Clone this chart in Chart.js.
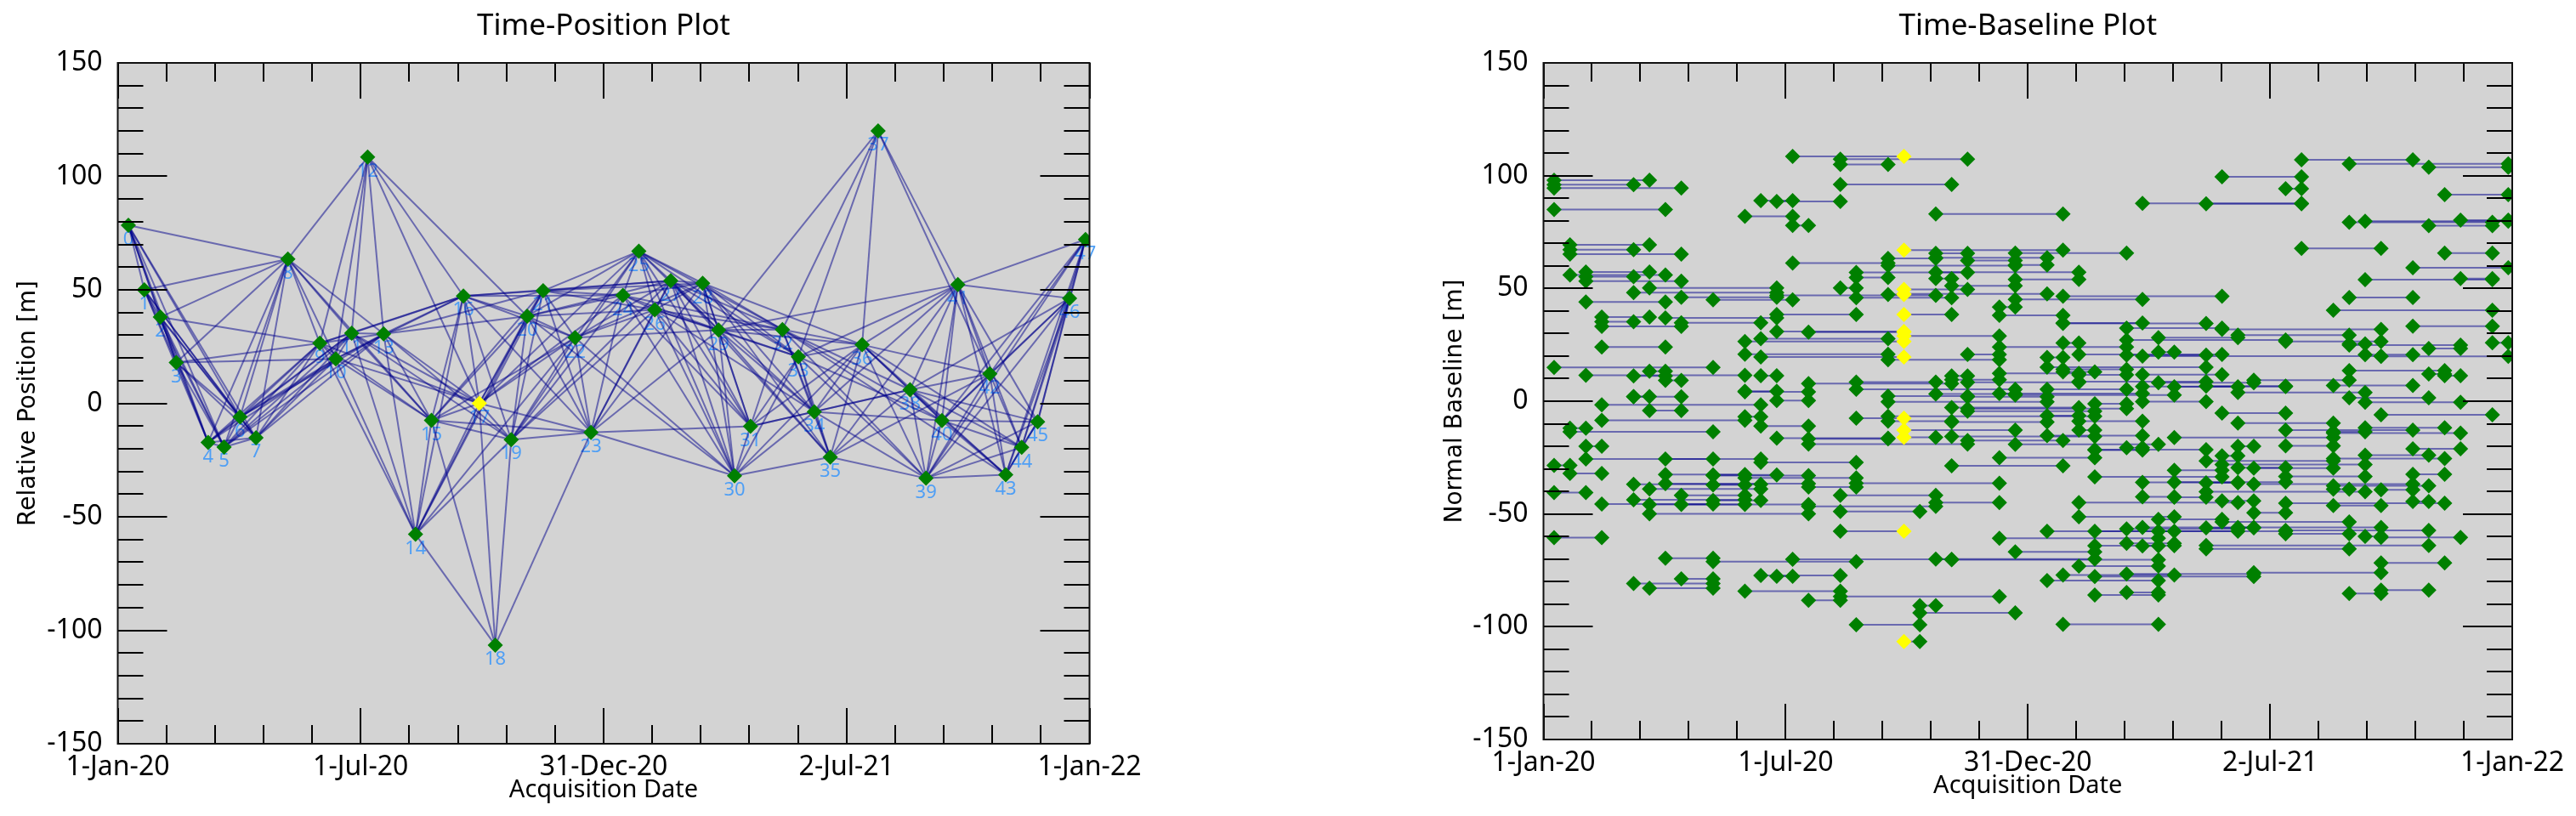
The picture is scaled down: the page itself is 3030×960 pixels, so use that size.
<!DOCTYPE html>
<html>
<head>
<meta charset="utf-8">
<title>Time-Position and Time-Baseline Plots</title>
<script src="https://cdn.jsdelivr.net/npm/chart.js@4"></script>
<style>
    html, body { margin: 0; padding: 0; background: #fff; }
    #page { position: relative; width: 3030px; height: 960px; overflow: hidden; }
    canvas { position: absolute; top: 0; }
</style>
</head>
<body>
<div id="page">
    <canvas id="positionChart" width="1515" height="960" style="left:0"></canvas>
    <canvas id="baselineChart" width="1515" height="960" style="left:1515px"></canvas>
</div>
<script>
// days since 1-Jan-20 of every acquisition
const imageDays = [8, 20, 32, 44, 68, 80, 92, 104, 128, 152, 164, 176, 188, 200, 224, 236,
    260, 272, 284, 296, 308, 320, 344, 356, 380, 392, 404, 416, 440, 452, 464, 476,
    500, 512, 524, 536, 560, 572, 596, 608, 620, 632, 656, 668, 680, 692, 716, 728];

const imagePositions = [78.5, 50, 38, 18, -17.2, -19.3, -6, -15.2, 63.6, 26.5, 19.6, 30.9, 108.5, 30.6, -57.7, -7.5,
    47.3, 0, -106.6, -16, 38.4, 49.6, 28.9, -12.8, 47.6, 67, 41.2, 54, 52.9, 32.3, -31.9, -10.1,
    32.5, 20.5, -3.7, -23.7, 25.8, 120, 6, -33, -7.6, 52.3, 13, -31.5, -19.4, -8.1, 46.3, 72.2];

const superMaster = 17;

// [image a, image b, normal baseline]
const pairs = [
    [0,5,98],[0,4,96],[0,7,94.5],[0,6,85],[0,8,15],[0,1,-28.5],[0,2,-40.5],[0,3,-60.5],
    [1,5,69.3],[1,4,67.2],[1,7,65.2],[1,6,56],[1,2,-12],[1,8,-13.6],[1,3,-32],
    [2,5,57.3],[2,4,55.2],[2,7,53.2],[2,6,44],[2,9,11.5],[2,8,-25.6],[2,3,-20],
    [3,9,-8.5],[3,5,37.3],[3,4,35.2],[3,7,33.2],[3,6,24],[3,10,-1.6],[3,8,-45.6],
    [4,11,48.1],[4,6,11.2],[4,5,2.1],[4,7,2],[4,10,-36.8],[4,9,-43.7],[4,8,-80.8],
    [5,11,50.2],[5,6,13.3],[5,7,-4.1],[5,10,-38.9],[5,9,-45.8],[5,13,-49.9],[5,8,-82.9],
    [6,11,36.9],[6,7,9.2],[6,10,-25.6],[6,9,-32.5],[6,13,-36.6],[6,8,-69.6],
    [7,11,46.1],[7,10,34.8],[7,9,-41.7],[7,13,-45.8],[7,8,-78.8],
    [8,12,44.9],[8,11,-32.7],[8,13,-33],[8,9,-37.1],[8,10,-44],[8,15,-71.1],
    [9,12,82],[9,17,26.5],[9,16,20.8],[9,11,4.4],[9,13,4.1],[9,10,-6.9],[9,15,-34],[9,14,-84.2],
    [10,12,88.9],[10,16,27.7],[10,17,19.6],[10,11,11.3],[10,13,-11],[10,15,-27.1],[10,14,-77.3],
    [11,14,88.6],[11,15,38.4],[11,17,30.9],[11,19,46.9],[11,13,0.3],[11,16,-16.4],[11,12,-77.6],
    [12,17,108.5],[12,13,77.9],[12,16,61.2],[12,20,-70.1],
    [13,17,30.6],[13,16,-16.7],[13,21,-19],[13,20,7.8],[13,15,-38.1],[13,19,-46.6],[13,14,-88.3],
    [14,21,107.3],[14,16,105],[14,20,96.1],[14,22,-86.6],[14,15,50.2],[14,17,-57.7],[14,19,-41.7],[14,18,-48.9],
    [15,16,54.8],[15,21,57.1],[15,20,45.9],[15,17,-7.5],[15,19,8.5],[15,23,5.3],[15,22,-36.4],[15,18,-99.1],
    [16,17,47.3],[16,19,63.3],[16,23,60.1],[16,21,2.3],[16,24,-0.3],[16,20,-8.9],[16,22,18.4],[16,27,-6.7],
    [17,25,67],[17,21,49.6],[17,24,47.6],[17,20,38.4],[17,22,28.9],[17,23,-12.8],[17,19,-16],[17,18,-106.6],
    [18,23,-93.8],[18,19,-90.6],
    [19,25,83],[19,21,65.6],[19,24,63.6],[19,26,57.2],[19,20,54.4],[19,23,3.2],[19,22,-44.9],[19,27,-70],
    [20,21,11.2],[20,22,9.5],[20,23,51.2],[20,26,-2.8],[20,24,-9.2],[20,27,-15.6],[20,25,-28.6],[20,30,-70.3],
    [21,23,62.4],[21,22,20.7],[21,26,8.4],[21,24,2],[21,27,-4.4],[21,28,-3.3],[21,25,-17.4],
    [22,23,41.7],[22,25,38.1],[22,28,24],[22,26,12.3],[22,29,3.4],[22,27,-25.1],[22,30,-60.8],
    [23,28,65.7],[23,24,60.4],[23,26,54],[23,29,45.1],[23,31,2.7],[23,30,-19.1],[23,27,-66.8],
    [24,25,19.4],[24,32,15.1],[24,28,5.3],[24,26,-6.4],[24,29,-15.3],[24,31,-57.7],[24,30,-79.5],
    [25,33,46.5],[25,29,34.7],[25,32,34.5],[25,28,14.1],[25,27,13],[25,26,25.8],[25,31,-77.1],[25,30,-98.9],
    [26,33,20.7],[26,28,11.7],[26,27,-12.8],[26,32,8.7],[26,29,-8.9],[26,34,-44.9],[26,31,-51.3],[26,30,-73.1],
    [27,28,-1.1],[27,32,-21.5],[27,29,-21.7],[27,33,-33.5],[27,34,-57.7],[27,31,-64.1],[27,30,-85.9],[27,35,-77.7],
    [28,33,32.4],[28,36,27.1],[28,32,20.4],[28,29,-20.6],[28,34,-56.6],[28,31,-63],[28,35,-76.6],[28,30,-84.8],
    [29,37,87.7],[29,33,11.8],[29,36,6.5],[29,32,-0.2],[29,34,-36],[29,31,-42.4],[29,35,-56],[29,30,-64.2],[29,41,20],
    [30,34,28.2],[30,31,21.8],[30,35,8.2],[30,33,-52.4],[30,36,-57.7],
    [31,34,6.4],[31,38,-16.1],[31,33,-30.6],[31,36,-35.9],[31,32,-42.6],
    [32,37,87.5],[32,36,6.7],[32,38,-26.5],[32,34,-36.2],[32,40,-40.1],[32,35,-56.2],[32,43,-64],[32,39,-65.5],
    [33,37,99.5],[33,41,31.8],[33,34,-24.2],[33,36,-5.3],[33,40,-28.1],[33,35,-44.2],[33,39,-53.5],
    [34,36,-29.5],[34,39,29.3],[34,35,-20],[34,40,3.9],[34,38,-9.7],[34,41,-56],
    [35,39,9.3],[35,38,-29.7],[35,42,-36.7],[35,36,-49.5],[35,41,-76],
    [36,37,94.2],[36,41,26.5],[36,42,-12.8],[36,38,-19.8],[36,40,-33.4],[36,44,-45.2],[36,43,-57.3],[36,39,-58.8],
    [37,42,107],[37,41,67.7],
    [38,46,40.3],[38,42,7],[38,40,-13.6],[38,45,-14.1],[38,44,-25.4],[38,43,-37.5],[38,39,-39],[38,41,-46.3],
    [39,47,105.2],[39,46,79.3],[39,42,46],[39,40,25.4],[39,45,24.9],[39,44,13.6],[39,43,1.5],[39,41,-85.3],
    [40,47,79.8],[40,46,53.9],[40,42,20.6],[40,45,-0.5],[40,44,-11.8],[40,43,-23.9],[40,41,-59.9],
    [41,47,19.9],[41,46,-6],[41,42,-39.3],[41,45,-60.4],[41,44,-71.7],[41,43,-83.8],
    [42,47,59.2],[42,46,33.3],[42,45,-21.1],[42,44,-32.4],[42,43,-44.5],
    [43,47,103.7],[43,46,77.8],[43,45,23.4],[43,44,12.1],
    [44,47,91.6],[44,46,65.7],[44,45,11.3],
    [45,47,80.3],[45,46,54.4],
    [46,47,25.9]
];

const xTickLabels = ['1-Jan-20', '1-Jul-20', '31-Dec-20', '2-Jul-21', '1-Jan-22'];
const xMax = 731;
const xMinorPerMajor = 5;
const yMin = -150;
const yMax = 150;
const yStep = 10;
const yLabelStep = 50;

const LINE_COLOR = 'rgba(0, 0, 139, 0.5)';
const GREEN = '#008000';
const YELLOW = '#ffff00';
const LABEL_BLUE = '#4f9ff5';
const TEXT_FONT = '"Noto Sans", sans-serif';

// plot background, inward ticks and the frame
const framePlugin = {
    id: 'frame',
    beforeDatasetsDraw(chart) {
        const { ctx, chartArea: a, scales: { x, y } } = chart;
        ctx.save();
        ctx.fillStyle = '#d3d3d3';
        ctx.fillRect(a.left, a.top, a.right - a.left, a.bottom - a.top);

        // image numbers sit under the lines
        if (chart.options.plugins.frame.showNumbers) {
            ctx.fillStyle = LABEL_BLUE;
            ctx.font = '22px ' + TEXT_FONT;
            ctx.textAlign = 'center';
            ctx.textBaseline = 'middle';
            imageDays.forEach((day, i) => {
                ctx.fillText(String(i), x.getPixelForValue(day), y.getPixelForValue(imagePositions[i]) + 17);
            });
        }
        ctx.restore();
    },
    afterDatasetsDraw(chart) {
        const { ctx, chartArea: a, scales: { x, y } } = chart;
        ctx.save();
        ctx.strokeStyle = '#000';
        ctx.lineWidth = 2;
        ctx.beginPath();
        x.ticks.forEach((t, i) => {
            const px = Math.round(x.getPixelForValue(t.value));
            const len = i % xMinorPerMajor === 0 ? 42 : 22;
            ctx.moveTo(px, a.top);
            ctx.lineTo(px, a.top + len);
            ctx.moveTo(px, a.bottom);
            ctx.lineTo(px, a.bottom - len);
        });
        y.ticks.forEach(t => {
            const py = Math.round(y.getPixelForValue(t.value));
            const len = t.value % yLabelStep === 0 ? 58 : 30;
            ctx.moveTo(a.left, py);
            ctx.lineTo(a.left + len, py);
            ctx.moveTo(a.right, py);
            ctx.lineTo(a.right - len, py);
        });
        ctx.stroke();
        ctx.strokeStyle = '#111';
        ctx.strokeRect(a.left, a.top, a.right - a.left, a.bottom - a.top);
        ctx.restore();
    }
};

function lineDataset(data) {
    return {
        data,
        showLine: true,
        borderColor: LINE_COLOR,
        borderWidth: 2,
        pointRadius: 0,
        order: 1
    };
}

function markerDataset(data) {
    return {
        data,
        showLine: false,
        pointStyle: 'rectRot',
        pointRadius: 9,
        borderWidth: 0,
        backgroundColor: c => (c.raw && c.raw.x === imageDays[superMaster] ? YELLOW : GREEN),
        order: 0
    };
}

function renderPlot(canvasId, titleText, yTitle, datasets, box, showNumbers) {
    new Chart(document.getElementById(canvasId), {
        type: 'scatter',
        data: { datasets },
        plugins: [framePlugin],
        options: {
            responsive: false,
            animation: false,
            events: [],
            layout: { padding: { right: 1515 - box.right, top: 0, left: 0, bottom: 0 } },
            plugins: {
                legend: { display: false },
                tooltip: { enabled: false },
                frame: { showNumbers },
                title: {
                    display: true,
                    fullSize: false,
                    text: titleText,
                    color: '#000',
                    font: { family: TEXT_FONT, size: 35, weight: 'normal', lineHeight: 1.2 },
                    padding: { top: 10, bottom: 22 }
                }
            },
            scales: {
                x: {
                    type: 'linear',
                    min: 0,
                    max: xMax,
                    grid: { display: false },
                    border: { display: false },
                    afterBuildTicks(scale) {
                        const ticks = [];
                        const count = (xTickLabels.length - 1) * xMinorPerMajor;
                        for (let i = 0; i <= count; i++) ticks.push({ value: xMax * i / count });
                        scale.ticks = ticks;
                    },
                    afterFit(scale) { scale.height = 960 - box.bottom; },
                    ticks: {
                        autoSkip: false,
                        maxRotation: 0,
                        padding: 1,
                        color: '#000',
                        font: { family: TEXT_FONT, size: 32 },
                        callback: (v, i) => (i % xMinorPerMajor === 0 ? xTickLabels[i / xMinorPerMajor] : '')
                    },
                    title: {
                        display: true,
                        text: 'Acquisition Date',
                        color: '#000',
                        font: { family: TEXT_FONT, size: 29 },
                        padding: { top: 0, bottom: box.titleGap }
                    }
                },
                y: {
                    min: yMin,
                    max: yMax,
                    grid: { display: false },
                    border: { display: false },
                    afterFit(scale) { scale.width = box.left; },
                    ticks: {
                        stepSize: yStep,
                        autoSkip: false,
                        padding: 10,
                        color: '#000',
                        font: { family: TEXT_FONT, size: 32 },
                        callback: v => (v % yLabelStep === 0 ? String(v) : '')
                    },
                    title: {
                        display: true,
                        text: yTitle,
                        color: '#000',
                        font: { family: '"DejaVu Sans", sans-serif', size: 28 },
                        padding: { top: box.yTitleLeft, bottom: 0 }
                    }
                }
            }
        }
    });
}

function renderPositionPlot() {
    const lines = pairs.map(([a, b]) => lineDataset([
        { x: imageDays[a], y: imagePositions[a] },
        { x: imageDays[b], y: imagePositions[b] }
    ]));
    const markers = markerDataset(imageDays.map((day, i) => ({ x: day, y: imagePositions[i] })));
    renderPlot('positionChart', 'Time-Position Plot', 'Relative Position [m]', [markers, ...lines],
        { left: 138.5, right: 1281.5, bottom: 875, titleGap: 13, yTitleLeft: 17 }, true);
}

function renderBaselinePlot() {
    const lines = pairs.map(([a, b, base]) => lineDataset([
        { x: imageDays[a], y: base },
        { x: imageDays[b], y: base }
    ]));
    const ends = [];
    pairs.forEach(([a, b, base]) => {
        ends.push({ x: imageDays[a], y: base }, { x: imageDays[b], y: base });
    });
    renderPlot('baselineChart', 'Time-Baseline Plot', 'Normal Baseline [m]', [markerDataset(ends), ...lines],
        { left: 300.5, right: 1440, bottom: 870, titleGap: 18, yTitleLeft: 180 }, false);
}

document.addEventListener('DOMContentLoaded', () => {
    renderPositionPlot();
    renderBaselinePlot();
});
</script>
</body>
</html>
